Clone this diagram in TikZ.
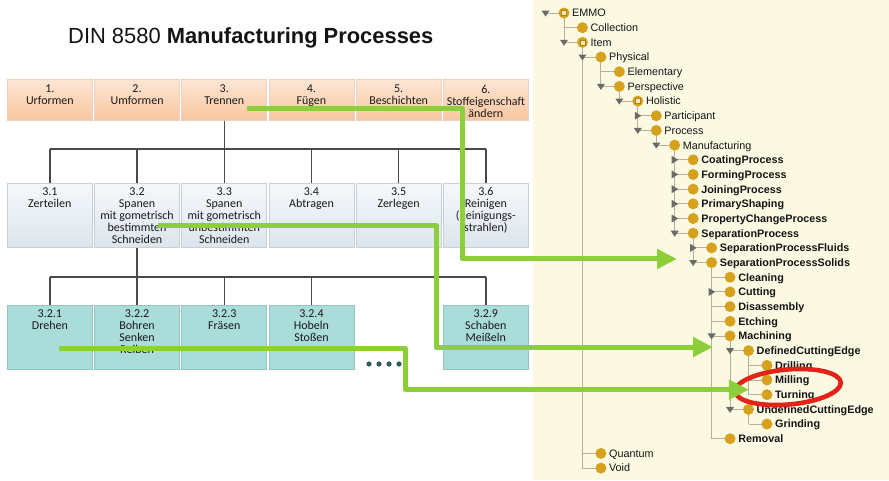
\documentclass[tikz,border=0pt]{standalone}
\usepackage{fontspec}
\setmainfont{Liberation Sans}
\newfontfamily\boxfont{Carlito}
\usetikzlibrary{arrows.meta,calc}
\definecolor{panelbg}{HTML}{FCF9E3}
\definecolor{ptop}{HTML}{FDE6D4}
\definecolor{pbot}{HTML}{F9C6A0}
\definecolor{pborder}{HTML}{E6D2C4}
\definecolor{gtop}{HTML}{F5F8FB}
\definecolor{gbot}{HTML}{DCE5ED}
\definecolor{gborder}{HTML}{C8D1D9}
\definecolor{tfill}{HTML}{AADCDA}
\definecolor{tborder}{HTML}{93C3C2}
\definecolor{conncol}{HTML}{4A4A4A}
\definecolor{gold}{HTML}{D6A21E}
\definecolor{goldlight}{HTML}{F6E8B8}
\definecolor{treeline}{HTML}{B5B09C}
\definecolor{tricol}{HTML}{6A6A6A}
\definecolor{lime}{HTML}{8DCF3A}
\definecolor{ringred}{HTML}{E2231A}
\definecolor{dotcol}{HTML}{2F5B5C}
\newcommand\treeitem[5]{%
  \coordinate (#1) at ({564+18.45*#2},{13+14.68*#3});
  \node[tlabel,#5] (#1-l) at ($(#1)+(8,3.9)$) {#4};}
\newcommand\tdn[1]{\fill[tricol] ($(#1)+(-4,-2.5)$) -- ++(8,0) -- ++(-4,6) -- cycle;}
\newcommand\trt[1]{\fill[tricol] ($(#1)+(-3,-4)$) -- ++(0,8) -- ++(6.5,-4) -- cycle;}
\begin{document}
\begin{tikzpicture}[x=1pt,y=-1pt,
  pbox/.style={anchor=north west, minimum width=85pt, minimum height=41pt, inner sep=0pt,
    draw=pborder, line width=0.7pt, top color=ptop, bottom color=pbot},
  gbox/.style={anchor=north west, minimum width=85pt, minimum height=64pt, inner sep=0pt,
    draw=gborder, line width=0.7pt, top color=gtop, bottom color=gbot},
  tbox/.style={anchor=north west, minimum width=85pt, minimum height=64pt, inner sep=0pt,
    draw=tborder, line width=0.7pt, fill=tfill},
  btext/.style={anchor=north, align=center, inner sep=0pt, text=black!90,
    font=\boxfont\fontsize{12}{12}\selectfont},
  conn/.style={draw=conncol, line width=1.3pt},
  tlabel/.style={anchor=base west, inner sep=0pt, text=black!92,
    font=\fontsize{10.8}{12}\selectfont},
  tb/.style={font=\fontsize{10.8}{12}\selectfont\bfseries},
  tline/.style={draw=treeline, line width=0.9pt},
  gcirc/.style={circle, fill=gold, minimum size=11pt, inner sep=0pt},
  sqicon/.style={rectangle, fill=goldlight, draw=gold!80!black, line width=0.5pt, minimum size=5pt, inner sep=0pt},
  garrow/.style={draw=lime, line width=5pt, line join=round, -{Triangle[length=20pt,width=19pt]}},
  redring/.style={draw=ringred, line width=4.6pt}
]
\useasboundingbox (0,0) rectangle (889,480);
\fill[panelbg] (533,0) rectangle (889,480);

% title
\node[anchor=base west, inner sep=0pt, font=\fontsize{21.9}{24}\selectfont, text=black!92] (title) at (68,43)
  {DIN 8580 \textbf{Manufacturing Processes}};

% row 1
\node[pbox] (b1) at (7,79) {};
\node[pbox] (b2) at (94.2,79) {};
\node[pbox] (b3) at (181.4,79) {};
\node[pbox] (b4) at (268.6,79) {};
\node[pbox] (b5) at (355.8,79) {};
\node[pbox] (b6) at (443,79) {};
\node[btext] (tb1) at ($(b1.north)+(0,6)$) {1.\\Urformen};
\node[btext] (tb2) at ($(b2.north)+(0,6)$) {2.\\Umformen};
\node[btext] (tb3) at ($(b3.north)+(0,6)$) {3.\\Trennen};
\node[btext] (tb4) at ($(b4.north)+(0,6)$) {4.\\Fügen};
\node[btext] (tb5) at ($(b5.north)+(0,6)$) {5.\\Beschichten};
\node[btext] (tb6) at ($(b6.north)+(0,6)$) {6.\\Stoffeigenschaft\\ändern};

% row 2
\node[gbox] (c1) at (7,183) {};
\node[gbox] (c2) at (94.2,183) {};
\node[gbox] (c3) at (181.4,183) {};
\node[gbox] (c4) at (268.6,183) {};
\node[gbox] (c5) at (355.8,183) {};
\node[gbox] (c6) at (443,183) {};
\node[btext] (tc1) at ($(c1.north)+(0,4.5)$) {3.1\\Zerteilen};
\node[btext] (tc2) at ($(c2.north)+(0,4.5)$) {3.2\\Spanen\\mit gometrisch\\bestimmten\\Schneiden};
\node[btext] (tc3) at ($(c3.north)+(0,4.5)$) {3.3\\Spanen\\mit gometrisch\\unbestimmten\\Schneiden};
\node[btext] (tc4) at ($(c4.north)+(0,4.5)$) {3.4\\Abtragen};
\node[btext] (tc5) at ($(c5.north)+(0,4.5)$) {3.5\\Zerlegen};
\node[btext] (tc6) at ($(c6.north)+(0,4.5)$) {3.6\\Reinigen\\(Reinigungs-\\strahlen)};

% row 3
\node[tbox] (d1) at (7,305) {};
\node[tbox] (d2) at (94.2,305) {};
\node[tbox] (d3) at (181.4,305) {};
\node[tbox] (d4) at (268.6,305) {};
\node[tbox] (d9) at (443,305) {};
\node[btext] (td1) at ($(d1.north)+(0,5)$) {3.2.1\\Drehen};
\node[btext] (td2) at ($(d2.north)+(0,5)$) {3.2.2\\Bohren\\Senken\\Reiben};
\node[btext] (td3) at ($(d3.north)+(0,5)$) {3.2.3\\Fräsen};
\node[btext] (td4) at ($(d4.north)+(0,5)$) {3.2.4\\Hobeln\\Stoßen};
\node[btext] (td9) at ($(d9.north)+(0,5)$) {3.2.9\\Schaben\\Meißeln};

% dots
\foreach \i in {0,1,2,3} \fill[dotcol] ({369+10*\i},364) circle (2.6);

% org-chart connectors
\coordinate (h1) at (0,149);
\coordinate (h2) at (0,277);
\draw[conn] (b3.south) -- (b3.south |- h1);
\draw[conn] (c1.north |- h1) -- (c6.north |- h1);
\foreach \n in {1,...,6} \draw[conn] (c\n.north |- h1) -- (c\n.north);
\draw[conn] (c2.south) -- (c2.south |- h2);
\draw[conn] (d1.north |- h2) -- (d9.north |- h2);
\foreach \n in {1,2,3,4,9} \draw[conn] (d\n.north |- h2) -- (d\n.north);

% ontology tree
\treeitem{root}{-1}{0}{}{}
\treeitem{emmo}{0}{0}{EMMO}{}
\treeitem{coll}{1}{1}{Collection}{}
\treeitem{item}{1}{2}{Item}{}
\treeitem{phys}{2}{3}{Physical}{}
\treeitem{elem}{3}{4}{Elementary}{}
\treeitem{persp}{3}{5}{Perspective}{}
\treeitem{hol}{4}{6}{Holistic}{}
\treeitem{part}{5}{7}{Participant}{}
\treeitem{proc}{5}{8}{Process}{}
\treeitem{manu}{6}{9}{Manufacturing}{}
\treeitem{coat}{7}{10}{CoatingProcess}{tb}
\treeitem{form}{7}{11}{FormingProcess}{tb}
\treeitem{join}{7}{12}{JoiningProcess}{tb}
\treeitem{prim}{7}{13}{PrimaryShaping}{tb}
\treeitem{prop}{7}{14}{PropertyChangeProcess}{tb}
\treeitem{sep}{7}{15}{SeparationProcess}{tb}
\treeitem{spf}{8}{16}{SeparationProcessFluids}{tb}
\treeitem{sps}{8}{17}{SeparationProcessSolids}{tb}
\treeitem{clean}{9}{18}{Cleaning}{tb}
\treeitem{cut}{9}{19}{Cutting}{tb}
\treeitem{dis}{9}{20}{Disassembly}{tb}
\treeitem{etch}{9}{21}{Etching}{tb}
\treeitem{mach}{9}{22}{Machining}{tb}
\treeitem{dce}{10}{23}{DefinedCuttingEdge}{tb}
\treeitem{drill}{11}{24}{Drilling}{tb}
\treeitem{mill}{11}{25}{Milling}{tb}
\treeitem{turn}{11}{26}{Turning}{tb}
\treeitem{uce}{10}{27}{UndefinedCuttingEdge}{tb}
\treeitem{grind}{11}{28}{Grinding}{tb}
\treeitem{rem}{9}{29}{Removal}{tb}
\treeitem{quant}{2}{30}{Quantum}{}
\treeitem{void}{2}{31}{Void}{}

% tree lines
\draw[tline] (root) -- (emmo);
\foreach \p/\last/\kids in {emmo/item/{coll,item}, item/void/{phys,quant,void},
   phys/persp/{elem,persp}, persp/hol/{hol}, hol/proc/{part,proc}, proc/manu/{manu},
   manu/sep/{coat,form,join,prim,prop,sep}, sep/sps/{spf,sps},
   sps/rem/{clean,cut,dis,etch,mach,rem}, mach/uce/{dce,uce},
   dce/turn/{drill,mill,turn}, uce/grind/{grind}} {
  \draw[tline] (\p) -- (\p |- \last);
  \foreach \k in \kids \draw[tline] (\p |- \k) -- (\k);
}

% expand handles
\tdn{root}
\foreach \p/\k in {emmo/item, item/phys, phys/persp, persp/hol, hol/proc, proc/manu,
   manu/sep, sep/sps, sps/mach, mach/dce, mach/uce} {\tdn{\p |- \k}}
\foreach \p/\k in {hol/part, manu/coat, manu/form, manu/join, manu/prim, manu/prop,
   sep/spf, sps/cut} {\trt{\p |- \k}}

% icons
\foreach \k in {emmo,coll,item,phys,elem,persp,hol,part,proc,manu,coat,form,join,prim,prop,
   sep,spf,sps,clean,cut,dis,etch,mach,dce,drill,mill,turn,uce,grind,rem,quant,void}
  {\node[gcirc] (\k-c) at (\k) {};}
\foreach \k in {emmo,item,hol} {\node[sqicon] (\k-s) at (\k) {};}

% red ring
\draw[redring, rotate around={5:(788,387)}] (788,387) ellipse [x radius=53, y radius=17.5];

% green arrows
\coordinate (g1s) at (247,108);
\coordinate (g1c) at (462,0);
\coordinate (g1t) at ($(sps)+(-34.6,-3.6)$);
\coordinate (g2s) at (158,225);
\coordinate (g2c) at (436,0);
\coordinate (g2t) at ($(dce)+(-35.5,-3.6)$);
\coordinate (g3s) at (59,348);
\coordinate (g3c) at (405,0);
\coordinate (g3t) at ($(turn)+(-18,-5)$);
\draw[garrow] (g1s) -| (g1c |- g1t) -- (g1t);
\draw[garrow] (g2s) -| (g2c |- g2t) -- (g2t);
\draw[garrow] (g3s) -| (g3c |- g3t) -- (g3t);
\end{tikzpicture}
\end{document}
